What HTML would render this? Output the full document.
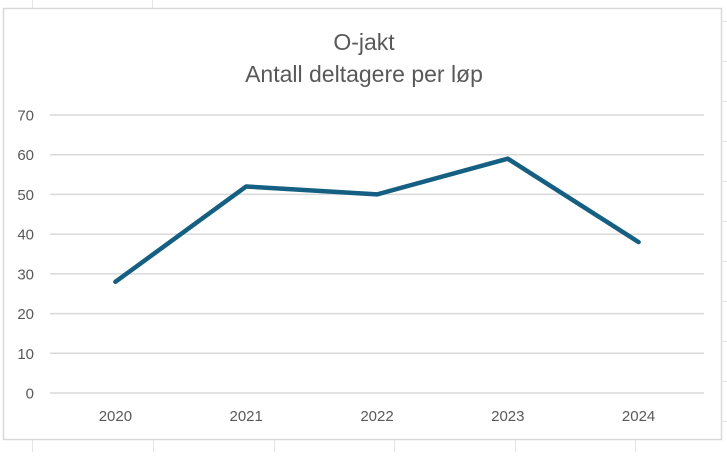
<!DOCTYPE html>
<html><head><meta charset="utf-8"><style>
body{margin:0;background:#fff;width:727px;height:452px;overflow:hidden;font-family:"Liberation Sans",sans-serif}
</style></head><body>
<svg width="727" height="452" id="svg">
<g stroke="#e3e3e3" stroke-width="1">
<line x1="32.5" y1="0" x2="32.5" y2="8"/><line x1="152.5" y1="0" x2="152.5" y2="8"/>
<line x1="32.5" y1="440" x2="32.5" y2="452"/><line x1="153.5" y1="440" x2="153.5" y2="452"/><line x1="274.5" y1="440" x2="274.5" y2="452"/><line x1="394.5" y1="440" x2="394.5" y2="452"/><line x1="515.5" y1="440" x2="515.5" y2="452"/><line x1="635.5" y1="440" x2="635.5" y2="452"/>
<line x1="722" y1="21.5" x2="727" y2="21.5"/><line x1="722" y1="61.5" x2="727" y2="61.5"/><line x1="722" y1="101.5" x2="727" y2="101.5"/><line x1="722" y1="141.5" x2="727" y2="141.5"/><line x1="722" y1="181.5" x2="727" y2="181.5"/><line x1="722" y1="221.5" x2="727" y2="221.5"/><line x1="722" y1="261.5" x2="727" y2="261.5"/><line x1="722" y1="301.5" x2="727" y2="301.5"/><line x1="722" y1="341.5" x2="727" y2="341.5"/><line x1="722" y1="381.5" x2="727" y2="381.5"/><line x1="722" y1="421.5" x2="727" y2="421.5"/>
</g>
<rect x="3.5" y="8.5" width="718" height="431" fill="#fff" stroke="#d9d9d9" stroke-width="1.5"/>
<text x="364" y="50" text-anchor="middle" font-size="23" fill="#595959">O-jakt</text>
<text x="364" y="82" text-anchor="middle" font-size="23" fill="#595959">Antall deltagere per løp</text>
<g id="grid"></g><g id="ylab"></g><g id="xlab"></g><g id="series"></g>
</svg>
<script>
const categories=["2020","2021","2022","2023","2024"];
const values=[28,52,50,59,38];
const yTicks=[0,10,20,30,40,50,60,70];
const NS="http://www.w3.org/2000/svg";
const x0=50,x1=704,y0=393,yTop=115,yMax=70;
const xs=i=>x0+(x1-x0)/categories.length*(i+0.5);
const ys=v=>y0-(y0-yTop)*v/yMax;
function mk(t,a,p){const e=document.createElementNS(NS,t);for(const k in a)e.setAttribute(k,a[k]);p.appendChild(e);return e;}
const g=document.getElementById('grid'),yl=document.getElementById('ylab'),xl=document.getElementById('xlab'),s=document.getElementById('series');
yTicks.forEach(v=>{
 const l=mk('line',{x1:x0,x2:x1,y1:ys(v),y2:ys(v),stroke:'#d9d9d9','stroke-width':1.5},g);
 
 
 const t=mk('text',{x:34,y:ys(v)+5.5,'text-anchor':'end','font-size':15,fill:'#595959'},yl);
 t.textContent=v;
 
 
});
categories.forEach((c,i)=>{
 const t=mk('text',{x:xs(i),y:421,'text-anchor':'middle','font-size':15,fill:'#595959'},xl);
 t.textContent=c;
 
 
});
const p=mk('polyline',{points:values.map((v,i)=>xs(i)+','+ys(v)).join(' '),fill:'none',stroke:'#156082','stroke-width':4.5,'stroke-linejoin':'round','stroke-linecap':'round'},s);


</script>
</body></html>
